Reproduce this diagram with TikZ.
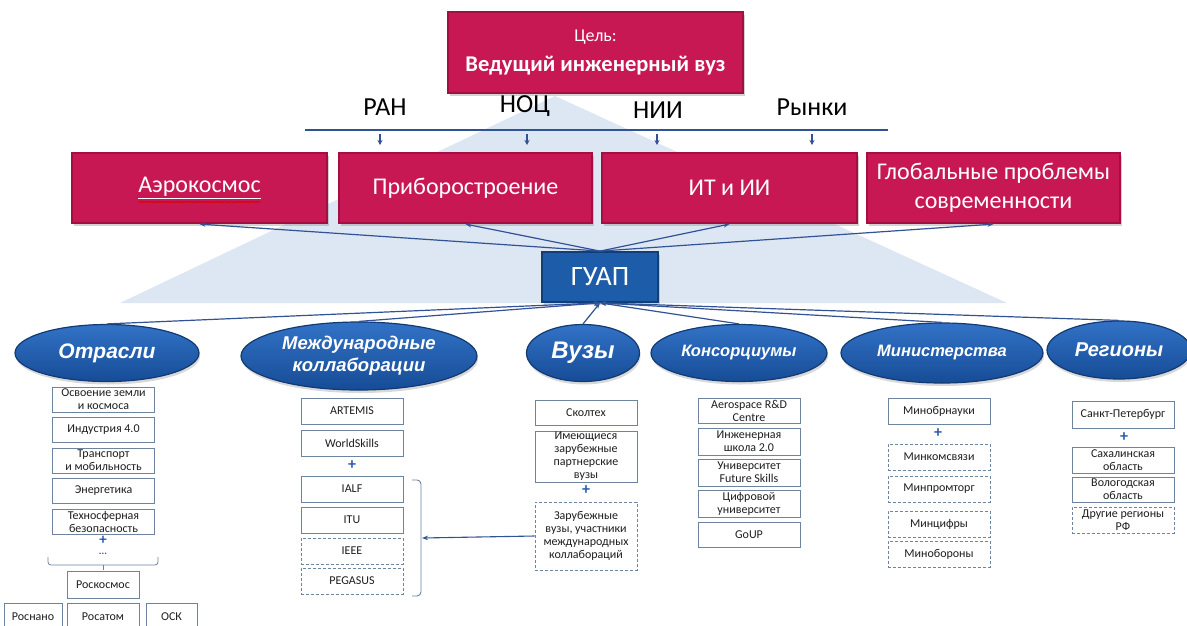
\documentclass[tikz,border=0pt]{standalone}
\usepackage{fontspec}
\setmainfont{Carlito}
\newfontfamily\arialf{Liberation Sans}
\usetikzlibrary{shapes.geometric,arrows.meta,shadows,decorations.pathmorphing}
\definecolor{crim}{RGB}{200,24,84}
\definecolor{crimdark}{RGB}{165,14,64}
\definecolor{guapblue}{RGB}{28,92,168}
\definecolor{guapdark}{RGB}{18,62,120}
\definecolor{ellL}{RGB}{50,114,198}
\definecolor{ellD}{RGB}{22,76,150}
\definecolor{ellEdge}{RGB}{18,58,115}
\definecolor{tri}{RGB}{221,231,243}
\definecolor{conn}{RGB}{50,82,150}
\definecolor{boxline}{RGB}{110,132,158}
\definecolor{plusblue}{RGB}{40,90,170}
\definecolor{subtext}{RGB}{30,30,30}
\begin{document}
\begin{tikzpicture}[x=1pt,y=-1pt,
  redbox/.style={rectangle, fill=crim, draw=crimdark, line width=2.2pt, text=white, align=center,
    inner sep=0pt, font=\fontsize{24}{29}\selectfont,
    drop shadow={opacity=0.35, shadow xshift=2pt, shadow yshift=-3pt}},
  guapbox/.style={rectangle, fill=guapblue, draw=guapdark, line width=1.8pt, text=white,
    inner sep=0pt, font=\fontsize{28}{30}\selectfont,
    drop shadow={opacity=0.35, shadow xshift=2pt, shadow yshift=-3pt}},
  ell/.style={ellipse, top color=ellL, bottom color=ellD, draw=ellEdge, line width=1.2pt,
    text=white, align=center, inner sep=0pt,
    drop shadow={opacity=0.3, shadow xshift=1pt, shadow yshift=-3pt}},
  ellfont/.style 2 args={font=\arialf\bfseries\itshape\fontsize{#1}{#2}\selectfont},
  sub/.style={rectangle, draw=boxline, line width=0.8pt, fill=white, text=subtext, align=center,
    inner sep=0pt, minimum width=102pt, font=\fontsize{12}{13}\selectfont},
  subd/.style={sub, dashed, dash pattern=on 3pt off 2pt},
  lbl/.style={font=\fontsize{26}{30}\selectfont, text=black, inner sep=0pt},
  plus/.style={text=plusblue, font=\bfseries\fontsize{16}{16}\selectfont, inner sep=0pt},
  conarrow/.style={draw=conn, line width=1.2pt, -{Stealth[length=6pt,width=4.5pt]}},
  smallarrow/.style={draw=conn, line width=1.2pt, -{Stealth[length=5pt,width=5pt]}},
  bline/.style={draw=conn, line width=1pt}
]
\useasboundingbox (0,0) rectangle (1187,625);
\fill[white] (0,0) rectangle (1187,625);

% background triangle
\fill[tri] (555,96) -- (1007,303) -- (120,303) -- cycle;

% top goal box
\node[redbox, minimum width=295pt, minimum height=81pt] (goal) at (595.5,52.5)
  {{\fontsize{18}{22}\selectfont Цель:}\\[1pt]{\bfseries\fontsize{22.5}{26}\selectfont Ведущий инженерный вуз}};

% labels
\node[lbl] (ran) at (385,107) {РАН};
\node[lbl] (noc) at (525,106) {НОЦ};
\node[lbl] (nii) at (658,110) {НИИ};
\node[lbl] (ryn) at (812,107) {Рынки};

% horizontal line with small arrows
\coordinate (hl) at (305,130);
\coordinate (hr) at (888,130);
\draw[bline, line width=1.3pt] (hl) -- (hr);
\foreach \n/\xx in {a/380, b/527, c/657, d/812}{
  \coordinate (s\n) at (\xx,134);
  \coordinate (e\n) at (\xx,145);
  \draw[smallarrow] (s\n) -- (e\n);
}

% red boxes
\node[redbox, minimum width=255pt, minimum height=70pt] (aero) at (199.5,188) {\underline{Аэрокосмос}};
\node[redbox, minimum width=253pt, minimum height=70pt] (prib) at (465.5,188) {Приборостроение};
\node[redbox, minimum width=255pt, minimum height=70pt] (itii) at (729.5,188) {ИТ и ИИ};
\node[redbox, minimum width=253pt, minimum height=70pt] (glob) at (993.5,188) {Глобальные проблемы\\современности};
\draw[red!85!black, line width=0.6pt, decorate, decoration={snake, amplitude=0.7pt, segment length=2.5pt}]
  ([xshift=-61pt,yshift=-14pt]aero.center) -- ([xshift=61pt,yshift=-14pt]aero.center);

% GUAP
\node[guapbox, minimum width=116pt, minimum height=50pt] (guap) at (600,277) {ГУАП};

% arrows GUAP -> red boxes
\foreach \t in {aero,prib,itii,glob}{
  \draw[conarrow] (guap.north) -- (\t.south);
}

% ellipses
\node[ell, ellfont={21}{24}, minimum width=184pt, minimum height=57pt] (otr) at (107,353) {Отрасли};
\node[ell, ellfont={18.5}{22}, minimum width=236pt, minimum height=68pt] (mezh) at (359,356) {Международные\\коллаборации};
\node[ell, ellfont={24}{28}, minimum width=113pt, minimum height=57pt] (vuz) at (583,353) {Вузы};
\node[ell, ellfont={16.5}{20}, minimum width=176pt, minimum height=57pt] (kons) at (739,353) {Консорциумы};
\node[ell, ellfont={16.5}{20}, minimum width=202pt, minimum height=60pt] (mini) at (942,353) {Министерства};
\node[ell, ellfont={20}{23}, minimum width=144pt, minimum height=58pt] (reg) at (1119,350) {Регионы};

% arrows ellipses -> GUAP
\foreach \s in {otr,mezh,vuz,kons,mini,reg}{
  \draw[conarrow] (\s.north) -- (guap.south);
}

% Отрасли column
\node[sub, minimum height=25pt] (o1) at (103.5,399.5) {Освоение земли\\и космоса};
\node[sub, minimum height=25pt] (o2) at (103.5,429.5) {Индустрия 4.0};
\node[sub, minimum height=25pt] (o3) at (103.5,460.5) {Транспорт\\и мобильность};
\node[sub, minimum height=25pt] (o4) at (103.5,490.5) {Энергетика};
\node[sub, minimum height=25pt] (o5) at (103.5,521.5) {Техносферная\\безопасность};
\node[plus, font=\bfseries\fontsize{15}{15}\selectfont] (op) at (103,540.5) {+};
\node[text=plusblue, font=\bfseries\fontsize{10}{10}\selectfont, inner sep=0pt] (odots) at (103,554) {...};
\draw[boxline, line width=0.8pt, rounded corners=3pt] (48,557) -- (48,565) -- (158,565) -- (158,557);
\draw[boxline, line width=0.8pt] (103,565) -- (103,570);
\node[sub, minimum width=72pt, minimum height=27pt] (rkos) at (103,584.5) {Роскосмос};
\node[sub, minimum width=72pt, minimum height=27pt] (ratom) at (103,616.5) {Росатом};
\node[sub, minimum width=58pt, minimum height=27pt] (rnano) at (33,616.5) {Роснано};
\node[sub, minimum width=51pt, minimum height=27pt] (osk) at (171.5,616.5) {ОСК};

% Международные column
\node[sub, minimum height=26pt] (m1) at (352,411) {ARTEMIS};
\node[sub, minimum height=26pt] (m2) at (352,443) {WorldSkills};
\node[plus] (mp) at (352,465) {+};
\node[sub, minimum height=26pt] (m3) at (352,489) {IALF};
\node[sub, minimum height=26pt] (m4) at (352,520) {ITU};
\node[subd, minimum height=26pt] (m5) at (352,551) {IEEE};
\node[subd, minimum height=26pt] (m6) at (352,581) {PEGASUS};
\draw[boxline, line width=0.9pt, rounded corners=4pt] (412,480) -- (421,480) -- (421,596) -- (412,596);
\coordinate (brk) at (422,538);

% Вузы column
\node[sub, minimum height=25pt] (v1) at (586,412.5) {Сколтех};
\node[sub, minimum height=51pt] (v2) at (586,456.5) {Имеющиеся\\зарубежные\\партнерские\\вузы};
\node[plus] (vp) at (586,490) {+};
\node[subd, minimum height=68pt] (v3) at (586,536) {Зарубежные\\вузы, участники\\международных\\коллабораций};
\draw[conarrow, line width=1.1pt] (v3.west) -- (brk);

% Консорциумы column
\node[sub, minimum height=25pt] (k1) at (749,410.5) {Aerospace R\&D\\Centre};
\node[sub, minimum height=27pt] (k2) at (749,441.5) {Инженерная\\школа 2.0};
\node[sub, minimum height=27pt] (k3) at (749,472.5) {Университет\\Future Skills};
\node[sub, minimum height=27pt] (k4) at (749,503.5) {Цифровой\\университет};
\node[sub, minimum height=25pt] (k5) at (749,534.5) {GoUP};

% Министерства column
\node[sub, minimum height=26pt] (n1) at (939,411) {Минобрнауки};
\node[plus] (np) at (938,433) {+};
\node[subd, minimum height=26pt] (n2) at (939,457) {Минкомсвязи};
\node[subd, minimum height=26pt] (n3) at (939,489) {Минпромторг};
\node[subd, minimum height=26pt] (n4) at (939,524) {Минцифры};
\node[subd, minimum height=26pt] (n5) at (939,554) {Минобороны};

% Регионы column
\node[sub, minimum height=27pt] (r1) at (1123,414.5) {Санкт-Петербург};
\node[plus] (rp) at (1124,437) {+};
\node[sub, minimum height=26pt] (r2) at (1123,460) {Сахалинская\\область};
\node[sub, minimum height=25pt] (r3) at (1123,489.5) {Вологодская\\область};
\node[subd, minimum height=26pt] (r4) at (1123,520) {Другие регионы\\РФ};
\end{tikzpicture}
\end{document}
